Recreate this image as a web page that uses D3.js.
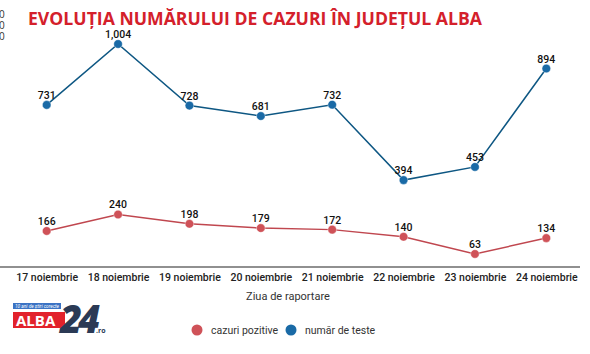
<!DOCTYPE html>
<html>
<head>
<meta charset="utf-8">
<script src="https://cdn.jsdelivr.net/npm/d3@7"></script>
<style>
  body { margin: 0; background: #fff; }
  svg { display: block; }
</style>
</head>
<body>
<div id="chart"></div>
<script>
const days = ["17 noiembrie", "18 noiembrie", "19 noiembrie", "20 noiembrie",
              "21 noiembrie", "22 noiembrie", "23 noiembrie", "24 noiembrie"];
const pozitive = [166, 240, 198, 179, 172, 140, 63, 134];
const teste = [731, 1004, 728, 681, 732, 394, 453, 894];
const seriesNames = ["cazuri pozitive", "număr de teste"];
const seriesColors = ["#cf5258", "#1a6aa6"];
const lineColors = ["#c0474f", "#0e5783"];

const W = 590, H = 354;
const svg = d3.select("#chart").append("svg")
    .attr("width", W).attr("height", H);

// x / y scales
const x = d3.scalePoint().domain(days).range([11, 582]).padding(0.5);
const y = d3.scaleLinear().domain([0, 1004]).range([268, 44]);

// title
svg.append("text")
    .attr("x", 28).attr("y", 25)
    .attr("textLength", 454).attr("lengthAdjust", "spacingAndGlyphs")
    .style("font-family", "'Open Sans', sans-serif")
    .style("font-weight", 700).style("font-size", "17px")
    .attr("fill", "#d4202b")
    .text("EVOLUȚIA NUMĂRULUI DE CAZURI ÎN JUDEȚUL ALBA");

// cropped y tick labels on the left edge
svg.selectAll(".ycut").data([18, 29, 40]).enter().append("text")
    .attr("x", -1).attr("y", d => d)
    .style("font-family", "'Open Sans', sans-serif").style("font-size", "10px")
    .attr("fill", "#333").text("0");

// x axis
const xAxis = svg.append("g")
    .attr("transform", "translate(0,267)")
    .call(d3.axisBottom(x).tickSize(0).tickPadding(7));
xAxis.select(".domain").attr("stroke", "#222").attr("stroke-width", 1.2)
    .attr("d", "M0,0H580");
xAxis.selectAll("text")
    .style("font-family", "Roboto, sans-serif").style("font-weight", 500)
    .style("font-size", "10.5px").attr("fill", "#222");

svg.append("text")
    .attr("x", 288).attr("y", 300).attr("text-anchor", "middle")
    .style("font-family", "Roboto, sans-serif").style("font-size", "11px")
    .attr("fill", "#333").text("Ziua de raportare");

// lines, dots, labels
const line = d3.line().x((d, i) => x(days[i])).y(d => y(d));
[pozitive, teste].forEach((vals, s) => {
  svg.append("path").datum(vals)
      .attr("d", line).attr("fill", "none")
      .attr("stroke", lineColors[s]).attr("stroke-width", 1.5);
  svg.selectAll(".dot" + s).data(vals).enter().append("circle")
      .attr("cx", (d, i) => x(days[i])).attr("cy", d => y(d)).attr("r", 4.3)
      .attr("fill", seriesColors[s]).attr("stroke", "#fff").attr("stroke-opacity", 0.4)
      .attr("stroke-width", 1);
  svg.selectAll(".lab" + s).data(vals).enter().append("text")
      .attr("x", (d, i) => x(days[i])).attr("y", d => y(d) - 6)
      .attr("text-anchor", "middle")
      .style("font-family", "Roboto, sans-serif").style("font-weight", 500)
      .style("font-size", "10.5px").attr("fill", "#111")
      .text(d => d3.format(",")(d));
});

// legend
const legX = [197, 291];
seriesNames.forEach((n, s) => {
  svg.append("circle").attr("cx", legX[s]).attr("cy", 330).attr("r", 5.5)
      .attr("fill", seriesColors[s]);
  svg.append("text").attr("x", legX[s] + 14).attr("y", 334)
      .style("font-family", "Roboto, sans-serif").style("font-size", "10.5px")
      .attr("fill", "#333").text(n);
});

// ALBA24 logo
const logo = svg.append("g");
logo.append("rect").attr("x", 13).attr("y", 303).attr("width", 48).attr("height", 6)
    .attr("fill", "#3b73c4");
logo.append("text").attr("x", 15).attr("y", 308)
    .attr("textLength", 44).attr("lengthAdjust", "spacingAndGlyphs")
    .style("font-family", "Roboto, sans-serif").style("font-style", "italic")
    .style("font-size", "5px").attr("fill", "#fff").text("10 ani de știri corecte");
logo.append("rect").attr("x", 13).attr("y", 312).attr("width", 52).attr("height", 16)
    .attr("fill", "#e2222b");
logo.append("text").attr("x", 16).attr("y", 326)
    .style("font-family", "'Open Sans', sans-serif").style("font-weight", 700)
    .style("font-size", "15px").attr("fill", "#fff").text("ALBA");
logo.append("text").attr("x", 60).attr("y", 333)
    .style("font-family", "'Open Sans', sans-serif").style("font-weight", 800)
    .style("font-style", "italic").style("font-size", "38px")
    .attr("letter-spacing", "-4").attr("fill", "#2b3a55").text("24");
logo.append("text").attr("x", 96).attr("y", 333)
    .style("font-family", "'Open Sans', sans-serif").style("font-weight", 700)
    .style("font-size", "7px").attr("fill", "#2b3a55").text(".ro");
</script>
</body>
</html>
